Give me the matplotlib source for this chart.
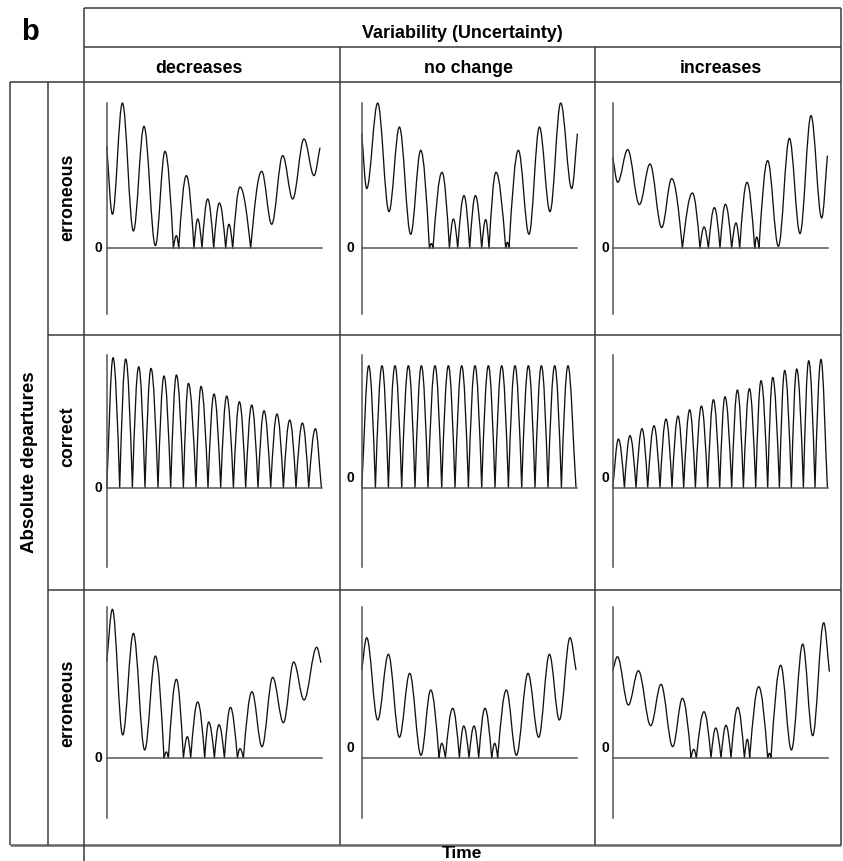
import matplotlib
matplotlib.use("Agg")
import matplotlib.pyplot as plt
from matplotlib.path import Path
from matplotlib.patches import PathPatch
from matplotlib.lines import Line2D

# ---------------- data (time, absolute departure) ----------------
# Row "erroneous" (top)
DEC_TOP_T = [0, 5.7, 15.7, 26.7, 37.3, 48.7, 58.3, 66.7, 69.7, 72, 79.7, 87.3, 91, 95.3, 101, 107,
             112.7, 119, 122.3, 126, 133.3, 144, 155, 165, 176, 186, 197.3, 207.3, 213.3]
DEC_TOP_V = [102, 34, 145.3, 17.3, 122, 2.7, 97, 0, 12.7, 0, 72.7, 0, 29.3, 0, 49.3, 0,
             45.3, 0, 24, 0, 61.3, 0, 77, 24, 92.7, 49.3, 109.3, 72.7, 100.7]

NOC_TOP_T = [0, 5, 16, 27.3, 37.7, 49, 59, 67.7, 69.7, 71.3, 80.3, 87.7, 91.7, 96, 102.3, 108,
             113.7, 120, 124, 127.3, 134.3, 144, 145.7, 147.3, 156.7, 167.3, 177.7, 188.3, 199, 210, 215.7]
NOC_TOP_V = [114.7, 59.7, 145.3, 36.7, 121.3, 14, 98, 0, 4.7, 0, 76, 0, 29.3, 0, 52.7, 0,
             52.7, 0, 28.7, 0, 76, 0, 6, 0, 98, 14, 121.3, 36.7, 145.3, 59.7, 114.7]

INC_TOP_T = [0, 5, 15, 26.7, 37.3, 49, 59, 69.7, 79.7, 87.3, 91.3, 95.7, 101.7, 107.3, 112.7, 119,
             123.3, 127, 134.3, 142, 144, 146.3, 155, 165.7, 176.7, 187.3, 198.3, 209, 214.7]
INC_TOP_V = [91.3, 66, 98.7, 43.7, 84.3, 20.7, 69.7, 0, 55.3, 0, 21.3, 0, 40.7, 0, 44, 0,
             25.3, 0, 66, 0, 11.3, 0, 87.7, 2, 110, 14.7, 132.7, 30.3, 92.7]

# Row "correct" (middle): zero crossings and arch peaks
DEC_MID_ZERO_T = [0, 13, 25.7, 38.3, 51.3, 64, 76.7, 89.3, 101.3, 114, 126.7, 139, 151.3, 164,
                  176.7, 189.3, 202, 214.7]
DEC_MID_PEAK_T = [6.3, 19, 32, 44.3, 57.3, 69.7, 81.7, 94.3, 107.3, 120, 132.7, 145, 157.3, 170.3,
                  183, 195.7, 208.7]
DEC_MID_PEAK_V = [130, 128.7, 121, 119.3, 111.7, 112.7, 104.3, 101.3, 93.7, 91.7, 86, 82.7, 77,
                  73.7, 67.7, 64.7, 59]

NOC_MID_ZERO_T = [0, 13.7, 26.7, 40, 53.3, 66.3, 80, 93.3, 106.7, 120, 133.3, 146.7, 160, 173.3,
                  186.3, 199.7, 214.3]
NOC_MID_PEAK_T = [7, 20.3, 33.3, 46.7, 59.7, 73.3, 86.7, 100, 113.3, 126.7, 140, 153.3, 166.7,
                  179.7, 193, 206.3]
NOC_MID_PEAK_V = [122, 122, 122, 122, 122, 122, 122, 122, 122, 122, 122, 122, 122, 122, 122, 122]

INC_MID_ZERO_T = [0, 11.7, 23.3, 35, 47.3, 59.3, 71, 82.7, 95, 107, 119, 130.7, 143, 155, 166.7,
                  178.7, 190.7, 202.3, 214.7]
INC_MID_PEAK_T = [5.7, 17.3, 29.3, 41.3, 53.3, 65.3, 77, 88.7, 100.7, 112.3, 124.7, 136.7, 148.3,
                  160, 172, 184, 196, 208.3]
INC_MID_PEAK_V = [48.7, 52, 59, 62, 68.7, 71.7, 78, 81.7, 88, 91, 97.7, 99, 107, 110.3, 117.3,
                  118.7, 127, 128.3]

# Row "erroneous" (bottom)
DEC_BOT_T = [0, 5.7, 16, 26.7, 38, 48.7, 57.3, 59.7, 61.7, 69.7, 76.7, 80.7, 84, 91, 98, 102,
             107.7, 112.3, 117.7, 123.7, 130.7, 133.3, 136.7, 145.3, 155.3, 166, 176.7, 187, 197.3, 210, 214.3]
DEC_BOT_V = [96.3, 148.7, 23, 124.7, 8, 102, 0, 6, 0, 78.7, 0, 21.3, 0, 56, 0, 36,
             0, 33.3, 0, 50.7, 0, 9.3, 0, 66.3, 11.3, 80.7, 35.3, 96, 58, 110.7, 95.3]

NOC_BOT_T = [0, 5, 16, 26.7, 37.7, 48, 59.3, 69, 77.3, 80, 83.7, 91, 97.7, 102, 107.3, 112.3,
             117, 123.3, 130, 133, 136, 144.7, 154.7, 166.3, 177, 187.7, 197.7, 208.3, 214.3]
NOC_BOT_V = [88, 120.3, 38, 103.7, 20.7, 84.7, 2.7, 68, 0, 14.7, 0, 49.7, 0, 32, 0, 32,
             0, 49.7, 0, 14.7, 0, 68, 2.7, 84.7, 20.7, 103.7, 38, 120.3, 88]

INC_BOT_T = [0, 4.7, 15.7, 25.7, 38, 48.3, 60, 69.7, 78.3, 81, 83.7, 91.3, 98.3, 103, 108.3, 113.3,
             118.3, 125, 131.7, 134.7, 137, 146, 155, 156.7, 158.3, 168, 178.7, 190, 200, 211, 216.7]
INC_BOT_V = [87.3, 101.3, 53, 87.3, 32.3, 73.7, 11.3, 59.7, 0, 8.7, 0, 46.3, 0, 30, 0, 32.7,
             0, 50.7, 0, 18.7, 0, 71.3, 0, 4.7, 0, 92.7, 8, 114, 22.3, 135.3, 86.3]

COLUMNS = ["decreases", "no change", "increases"]
ROWS = ["erroneous", "correct", "erroneous"]
HEADER = "Variability (Uncertainty)"
YLABEL = "Absolute departures"
XLABEL = "Time"
PANEL_LETTER = "b"


def merge_arches(zero_t, peak_t, peak_v):
    t, v = [], []
    for i, z in enumerate(zero_t):
        t.append(z)
        v.append(0)
        if i < len(peak_t):
            t.append(peak_t[i])
            v.append(peak_v[i])
    return t, v


PANELS = [
    [(DEC_TOP_T, DEC_TOP_V), (NOC_TOP_T, NOC_TOP_V), (INC_TOP_T, INC_TOP_V)],
    [merge_arches(DEC_MID_ZERO_T, DEC_MID_PEAK_T, DEC_MID_PEAK_V),
     merge_arches(NOC_MID_ZERO_T, NOC_MID_PEAK_T, NOC_MID_PEAK_V),
     merge_arches(INC_MID_ZERO_T, INC_MID_PEAK_T, INC_MID_PEAK_V)],
    [(DEC_BOT_T, DEC_BOT_V), (NOC_BOT_T, NOC_BOT_V), (INC_BOT_T, INC_BOT_V)],
]

# ---------------- layout (pixels) ----------------
W, H = 843, 861
COL_X = [(84, 340), (340, 595), (595, 841)]
ROW_Y = [(82, 335), (335, 590), (590, 845)]
AXIS_X = [106.7, 361.7, 612.7]
ZERO_Y = [248.3, 487.7, 758]
AX_TOP = [102.7, 354.7, 607]
AX_BOT = [314.3, 567, 818]
T_END = 215
ZERO_DX = [4, 7, 3]
ZERO_RAISE = [[0, 0, 0], [0, 10, 10], [0, 10, 10]]

LINE = "#3a3a3a"
AXC = "#555555"

plt.rcParams["font.family"] = ["Liberation Sans", "DejaVu Sans"]
fig = plt.figure(figsize=(W / 100, H / 100), dpi=100)


def fx(x):
    return x / W


def fy(y):
    return 1 - y / H


def hline(y, x0, x1, lw=1.1, color=LINE):
    fig.add_artist(Line2D([fx(x0), fx(x1)], [fy(y), fy(y)], transform=fig.transFigure,
                          color=color, lw=lw, solid_capstyle="butt"))


def vline(x, y0, y1, lw=1.1, color=LINE):
    fig.add_artist(Line2D([fx(x), fx(x)], [fy(y0), fy(y1)], transform=fig.transFigure,
                          color=color, lw=lw, solid_capstyle="butt"))


def smooth_path(t, v):
    n = len(t)
    kinds = ["e" if i in (0, n - 1) else ("c" if v[i] == 0 else "x") for i in range(n)]
    verts = [(t[0], v[0])]
    codes = [Path.MOVETO]
    for i in range(n - 1):
        x0, y0, x1, y1 = t[i], v[i], t[i + 1], v[i + 1]
        dx, dy = x1 - x0, y1 - y0
        k0, k1 = kinds[i], kinds[i + 1]
        if k0 == "x":
            c1 = (x0 + 0.364 * dx, y0)
        elif k0 == "c":
            c1 = (x0 + 0.334 * dx, y0 + 0.525 * dy)
        else:
            c1 = (x0 + dx / 3, y0 + dy / 3)
        if k1 == "x":
            c2 = (x1 - 0.364 * dx, y1)
        elif k1 == "c":
            c2 = (x1 - 0.334 * dx, y1 - 0.525 * dy)
        else:
            c2 = (x1 - dx / 3, y1 - dy / 3)
        verts += [c1, c2, (x1, y1)]
        codes += [Path.CURVE4] * 3
    return Path(verts, codes)


for r in range(3):
    for c in range(3):
        x0, x1 = COL_X[c]
        y0, y1 = ROW_Y[r]
        xa, zy = AXIS_X[c], ZERO_Y[r]
        ax = fig.add_axes([fx(x0), fy(y1), (x1 - x0) / W, (y1 - y0) / H])
        ax.set_xlim(x0 - xa, x1 - xa)
        ax.set_ylim(zy - y1, zy - y0)
        ax.patch.set_visible(False)
        for s in ("top", "right"):
            ax.spines[s].set_visible(False)
        ax.spines["left"].set_position(("data", 0))
        ax.spines["left"].set_bounds(zy - AX_BOT[r], zy - AX_TOP[r])
        ax.spines["bottom"].set_position(("data", 0))
        ax.spines["bottom"].set_bounds(0, T_END)
        for s in ("left", "bottom"):
            ax.spines[s].set_color(AXC)
            ax.spines[s].set_linewidth(1.1)
        ax.set_xticks([])
        ax.set_yticks([])
        t, v = PANELS[r][c]
        ax.add_patch(PathPatch(smooth_path(t, v), fill=False, lw=0.95, edgecolor="#111111",
                               joinstyle="round"))
        ax.annotate("0", xy=(0, 0), xytext=(-ZERO_DX[c], ZERO_RAISE[r][c]),
                    textcoords="offset pixels", ha="right", va="center",
                    fontsize=10, fontweight="bold")

# ---------------- table lines ----------------
hline(8, 84, 841)
hline(47, 84, 841)
hline(82, 10, 841)
hline(335, 48, 841)
hline(590, 48, 841)
hline(845, 10, 841, lw=1.8, color="#666666")
vline(84, 8, 861)
vline(10, 82, 845)
vline(48, 82, 845)
vline(340, 47, 845)
vline(595, 47, 845)
vline(841, 8, 845)

# ---------------- texts ----------------
fig.text(fx(21), fy(40), PANEL_LETTER, fontsize=21, fontweight="bold", ha="left", va="baseline")
fig.text(fx(462), fy(37.5), HEADER, fontsize=13, fontweight="bold", ha="center", va="baseline")
for xc, lab in zip([199, 468, 721], COLUMNS):
    fig.text(fx(xc), fy(73), lab, fontsize=12.8, fontweight="bold", ha="center", va="baseline")
for yc, lab in zip([197, 437, 703], ROWS):
    fig.text(fx(68), fy(yc), lab, fontsize=12.8, fontweight="bold", ha="center", va="center",
             rotation=90)
fig.text(fx(30), fy(462), YLABEL, fontsize=13.5, fontweight="bold", ha="center", va="center",
         rotation=90)
fig.text(fx(462), fy(860.5), XLABEL, fontsize=12.5, fontweight="bold", ha="center", va="bottom")

fig.savefig("out.png", dpi=100)
